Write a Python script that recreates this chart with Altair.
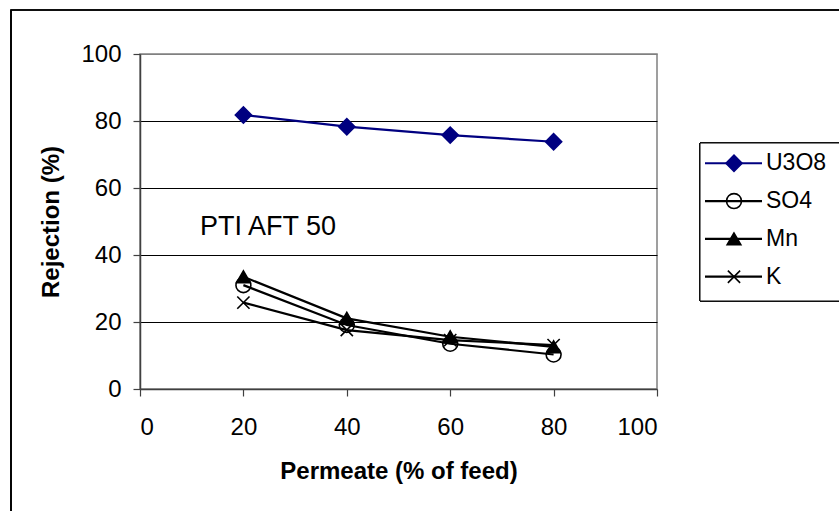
import altair as alt
import pandas as pd

permeate = [20, 40, 60, 80]
series_names = ["U3O8", "SO4", "Mn", "K"]
u3o8 = [81.8, 78.3, 75.8, 73.8]
so4 = [31.0, 19.1, 13.5, 10.3]
mn = [33.5, 21.1, 15.6, 12.6]
k = [25.8, 17.6, 14.6, 13.1]
x_ticks = [0, 20, 40, 60, 80, 100]
y_ticks = [0, 20, 40, 60, 80, 100]
annotation = "PTI AFT 50"
annot_x = [11.6]
annot_y = [46]

rows = []
for name, vals in zip(series_names, [u3o8, so4, mn, k]):
    for xv, yv in zip(permeate, vals):
        rows.append({"series": name, "permeate": xv, "rejection": yv})
df = pd.DataFrame(rows)

legend_df = pd.DataFrame({"series": series_names, "idx": list(range(len(series_names)))})
annot_df = pd.DataFrame({"x": annot_x, "y": annot_y, "t": [annotation]})

FONT = "Liberation Sans"
X_PATH = "M-1,-1L1,1M-1,1L1,-1"

line_color = alt.Scale(domain=series_names, range=["#000080", "black", "black", "black"])
fill_scale = alt.Scale(domain=series_names, range=["#000080", "transparent", "black", "black"])
shape_scale = alt.Scale(domain=series_names, range=["diamond", "circle", "triangle-up", X_PATH])
size_scale = alt.Scale(domain=series_names, range=[260, 150, 170, 180])

xenc = alt.X("permeate:Q", scale=alt.Scale(domain=[0, 100], nice=False),
             axis=alt.Axis(values=x_ticks, title="Permeate (% of feed)", grid=False))
yenc = alt.Y("rejection:Q", scale=alt.Scale(domain=[0, 100], nice=False),
             axis=alt.Axis(values=y_ticks, title="Rejection (%)", grid=True,
                           gridColor={"condition": {"test": "datum.value == 100 || datum.value == 0", "value": "#808080"}, "value": "black"}))

lines = alt.Chart(df).mark_line(strokeWidth=2.2).encode(
    x=xenc, y=yenc,
    color=alt.Color("series:N", scale=line_color, legend=None),
    detail="series:N",
)
points = alt.Chart(df).mark_point(filled=False, strokeWidth=1.6, opacity=1).encode(
    x="permeate:Q", y="rejection:Q",
    shape=alt.Shape("series:N", scale=shape_scale, legend=None),
    stroke=alt.Stroke("series:N", scale=line_color, legend=None),
    fill=alt.Fill("series:N", scale=fill_scale, legend=None),
    size=alt.Size("series:N", scale=size_scale, legend=None),
)
annot = alt.Chart(annot_df).mark_text(align="left", baseline="alphabetic", fontSize=27, font=FONT, color="black").encode(
    x="x:Q", y="y:Q", text="t:N"
)
main = alt.layer(lines, points, annot)

leg_y = alt.Y("idx:Q", scale=alt.Scale(domain=[5.97, -2.89], nice=False, zero=False), axis=None)
leg_rule = alt.Chart(legend_df).mark_rule(strokeWidth=2.2).encode(
    x=alt.value(565), x2=alt.value(622), y=leg_y,
    color=alt.Color("series:N", scale=line_color, legend=None),
)
leg_pts = alt.Chart(legend_df).mark_point(filled=False, strokeWidth=1.6, opacity=1).encode(
    x=alt.value(594), y=leg_y,
    shape=alt.Shape("series:N", scale=shape_scale, legend=None),
    stroke=alt.Stroke("series:N", scale=line_color, legend=None),
    fill=alt.Fill("series:N", scale=fill_scale, legend=None),
    size=alt.Size("series:N", scale=size_scale, legend=None),
)
leg_text = alt.Chart(legend_df).mark_text(align="left", baseline="middle", fontSize=23, font=FONT, color="black", dx=0).encode(
    x=alt.value(626), y=leg_y, text="series:N"
)
leg_box = alt.Chart(legend_df).mark_rect(fill="white", stroke="black", strokeWidth=1).encode(
    x=alt.value(560), x2=alt.value(720), y=alt.value(89), y2=alt.value(247)
)
legend = alt.layer(leg_box, leg_rule, leg_pts, leg_text)

border = alt.Chart(legend_df).mark_rect(fill=None, stroke="black", strokeWidth=1.2).encode(
    x=alt.value(-129), x2=alt.value(720), y=alt.value(-44), y2=alt.value(520)
)

chart = alt.layer(border, main, legend).resolve_scale(y="independent", x="independent").properties(
    width=517, height=335,
    padding={"left": 140, "top": 54, "right": 182, "bottom": 122},
    autosize=alt.AutoSizeParams(type="none"),
    background="white",
).configure_view(stroke="#808080", strokeWidth=1.5).configure_axis(
    labelFont=FONT, labelFontSize=24, labelColor="black",
    titleFont=FONT, titleFontSize=24, titleFontWeight="bold", titleColor="black",
    domainColor="#404040", domainWidth=1.5, tickColor="#404040", tickSize=7, tickWidth=1.2,
    gridWidth=1,
).configure_axisX(labelPadding=19, titlePadding=20).configure_axisY(labelPadding=12, titlePadding=17)

chart.save("out.html", embed_options={"renderer": "svg", "actions": False})
